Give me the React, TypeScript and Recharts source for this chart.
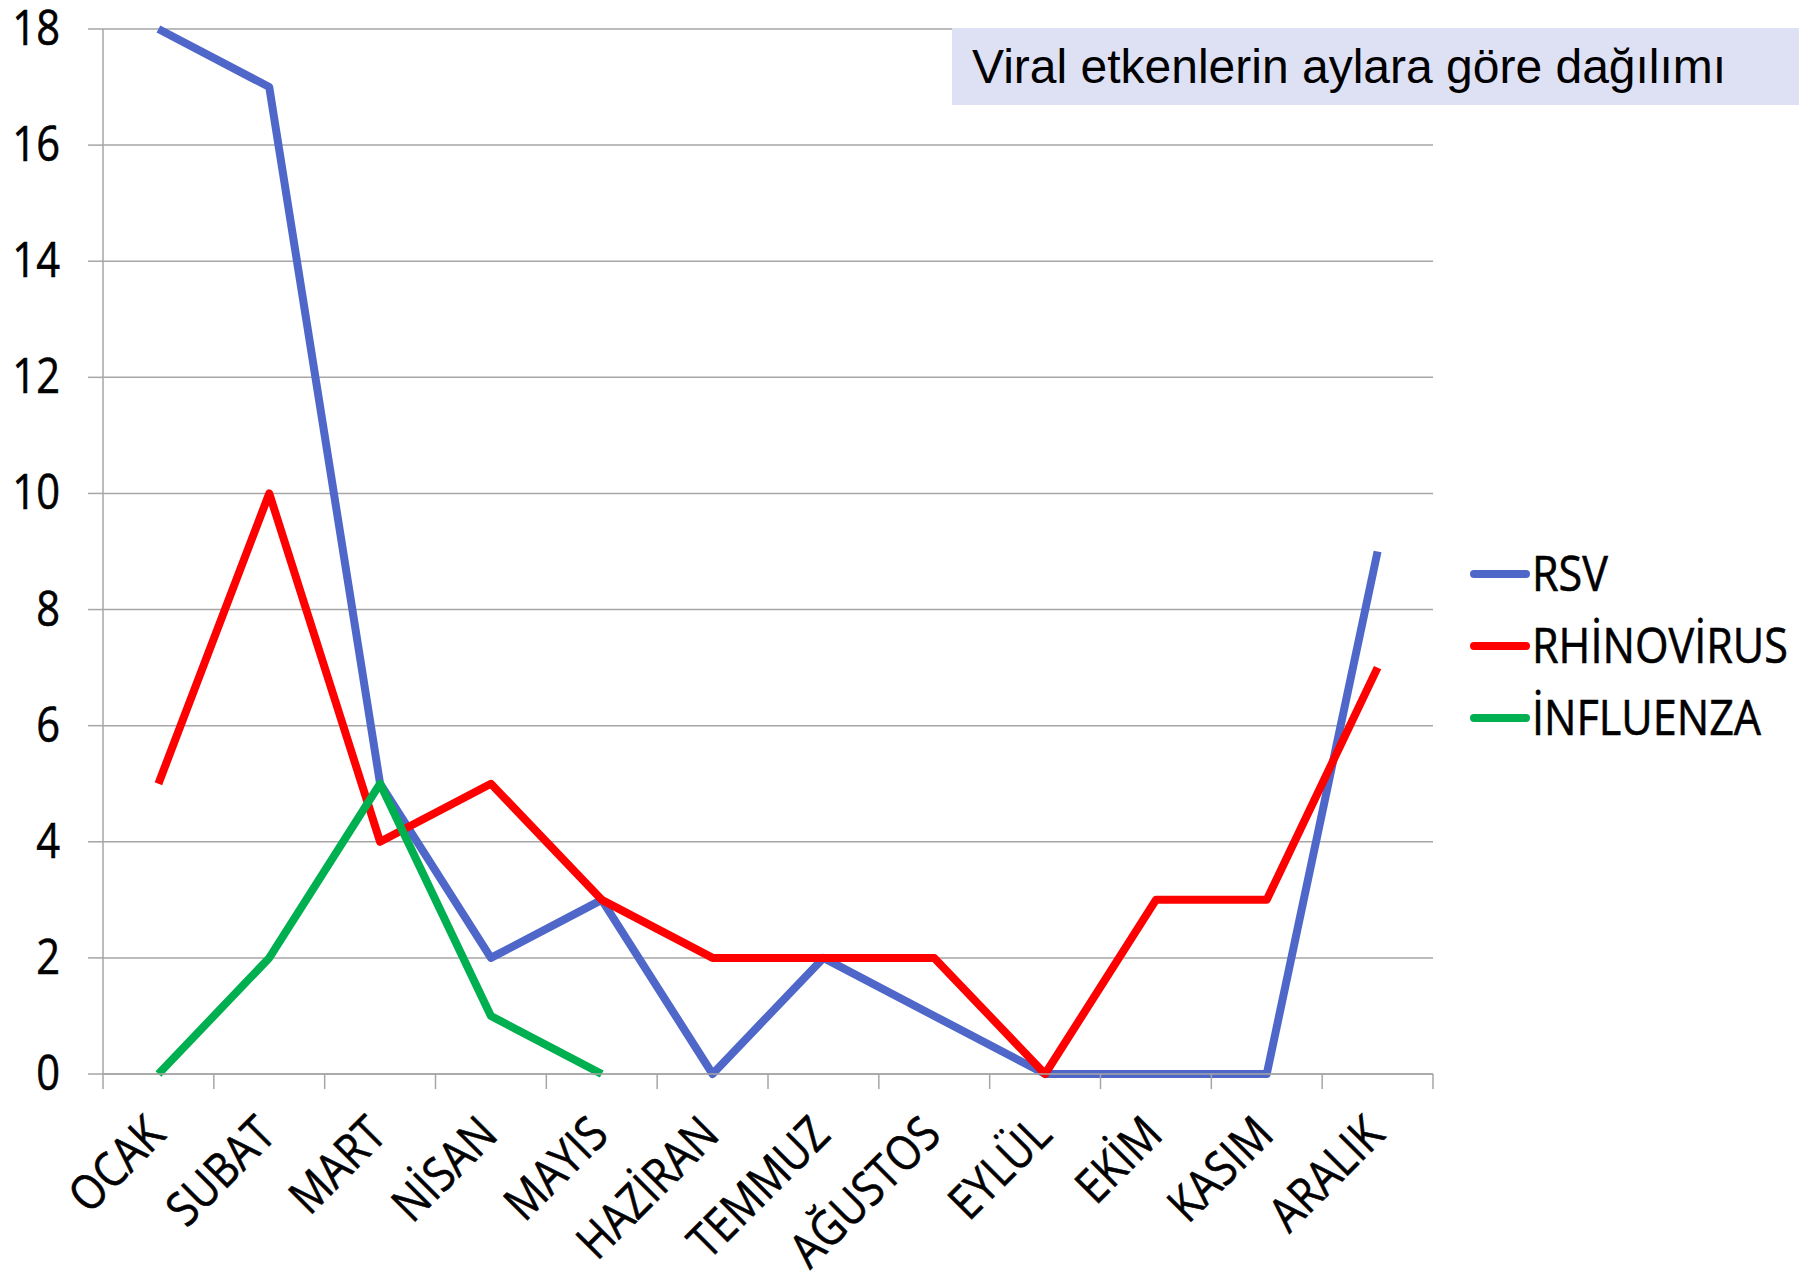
import React from 'react';
import { LineChart, Line, XAxis, YAxis, CartesianGrid } from 'recharts';

const MONTHS = ['OCAK', 'SUBAT', 'MART', 'NİSAN', 'MAYIS', 'HAZİRAN', 'TEMMUZ', 'AĞUSTOS', 'EYLÜL', 'EKİM', 'KASIM', 'ARALIK'];
const RSV = [18, 17, 5, 2, 3, 0, 2, 1, 0, 0, 0, 9];
const RHINOVIRUS = [5, 10, 4, 5, 3, 2, 2, 2, 0, 3, 3, 7];
const INFLUENZA: (number | null)[] = [0, 2, 5, 1, 0, null, null, null, null, null, null, null];
const Y_TICKS = [0, 2, 4, 6, 8, 10, 12, 14, 16, 18];
const X_BOUNDARIES = [0, 1, 2, 3, 4, 5, 6, 7, 8, 9, 10, 11, 12];
const TITLE = 'Viral etkenlerin aylara göre dağılımı';

const SERIES = [
  { key: 'rsv', name: 'RSV', color: '#4F67C9' },
  { key: 'rhino', name: 'RHİNOVİRUS', color: '#FF0000' },
  { key: 'influ', name: 'İNFLUENZA', color: '#00B050' },
];

const data = MONTHS.map((m, i) => ({
  pos: i + 0.5,
  month: m,
  rsv: RSV[i],
  rhino: RHINOVIRUS[i],
  influ: INFLUENZA[i],
}));

const W = 1816;
const H = 1279;
const PLOT_LEFT = 103;
const PLOT_RIGHT = 1433;
const PLOT_TOP = 29;
const PLOT_BOTTOM = 1074;
const BAND = (PLOT_RIGHT - PLOT_LEFT) / MONTHS.length;
const GRID = '#a6a6a6';
const FONT = '"Open Sans", "Noto Sans", sans-serif';

const YTick = (props: any) => {
  const { y, payload } = props;
  return (
    <text
      transform={`translate(60, ${y + 16}) scale(0.85, 1)`}
      textAnchor="end"
      fontFamily={FONT}
      fontSize={49}
      fill="#000"
      stroke="#000"
      strokeWidth={0.6}
    >
      {payload.value}
    </text>
  );
};

const XTick = (props: any) => {
  const { x, payload } = props;
  const idx = Math.round(payload.value);
  if (idx >= MONTHS.length) return <g />;
  const ax = x + BAND / 2 + 9;
  const ay = PLOT_BOTTOM + 63;
  return (
    <text
      transform={`translate(${ax}, ${ay}) rotate(-45) scale(0.87, 1)`}
      textAnchor="end"
      fontFamily={FONT}
      fontSize={48}
      fill="#000"
      stroke="#000"
      strokeWidth={0.6}
    >
      {MONTHS[idx]}
    </text>
  );
};

export default function App() {
  return (
    <div style={{ position: 'absolute', left: 0, top: 0, width: W, height: H, background: '#fff' }}>
      <LineChart
        width={W}
        height={H}
        data={data}
        margin={{ top: PLOT_TOP, right: W - PLOT_RIGHT, bottom: 0, left: 0 }}
      >
        <CartesianGrid vertical={false} stroke={GRID} strokeWidth={1.5} />
        <XAxis
          dataKey="pos"
          type="number"
          domain={[0, 12]}
          ticks={X_BOUNDARIES}
          interval={0}
          height={H - PLOT_BOTTOM}
          tickSize={15}
          tickLine={{ stroke: GRID, strokeWidth: 1.5 }}
          axisLine={{ stroke: GRID, strokeWidth: 1.5 }}
          tick={<XTick />}
        />
        <YAxis
          domain={[0, 18]}
          ticks={Y_TICKS}
          interval={0}
          width={PLOT_LEFT}
          tickSize={15}
          tickLine={{ stroke: GRID, strokeWidth: 1.5 }}
          axisLine={{ stroke: GRID, strokeWidth: 1.5 }}
          tick={<YTick />}
        />
        {SERIES.map((s) => (
          <Line
            key={s.key}
            dataKey={s.key}
            name={s.name}
            stroke={s.color}
            strokeWidth={8}
            dot={false}
            activeDot={false}
            type="linear"
            strokeLinejoin="round"
            isAnimationActive={false}
          />
        ))}
      </LineChart>

      <div
        style={{
          position: 'absolute',
          left: 952,
          top: 28,
          width: 847,
          height: 77,
          background: '#dde1f3',
          fontFamily: '"Liberation Sans", Arial, sans-serif',
          fontSize: 48,
          lineHeight: '77px',
          paddingLeft: 20,
          boxSizing: 'border-box',
          color: '#000',
          whiteSpace: 'nowrap',
        }}
      >
        {TITLE}
      </div>

      <div style={{ position: 'absolute', left: 1470, top: 536, width: 346 }}>
        {SERIES.map((s) => (
          <div key={s.key} style={{ position: 'relative', height: 72 }}>
            <div
              style={{
                position: 'absolute',
                left: 0,
                top: 33.5,
                width: 60,
                height: 8,
                borderRadius: 4,
                background: s.color,
              }}
            />
            <div
              style={{
                position: 'absolute',
                left: 62,
                top: 0,
                fontFamily: FONT,
                fontSize: 49,
                lineHeight: '72px',
                whiteSpace: 'nowrap',
                transform: 'scaleX(0.88)',
                transformOrigin: 'left center',
                color: '#000',
                WebkitTextStroke: '0.6px #000',
              }}
            >
              {s.name}
            </div>
          </div>
        ))}
      </div>
    </div>
  );
}
